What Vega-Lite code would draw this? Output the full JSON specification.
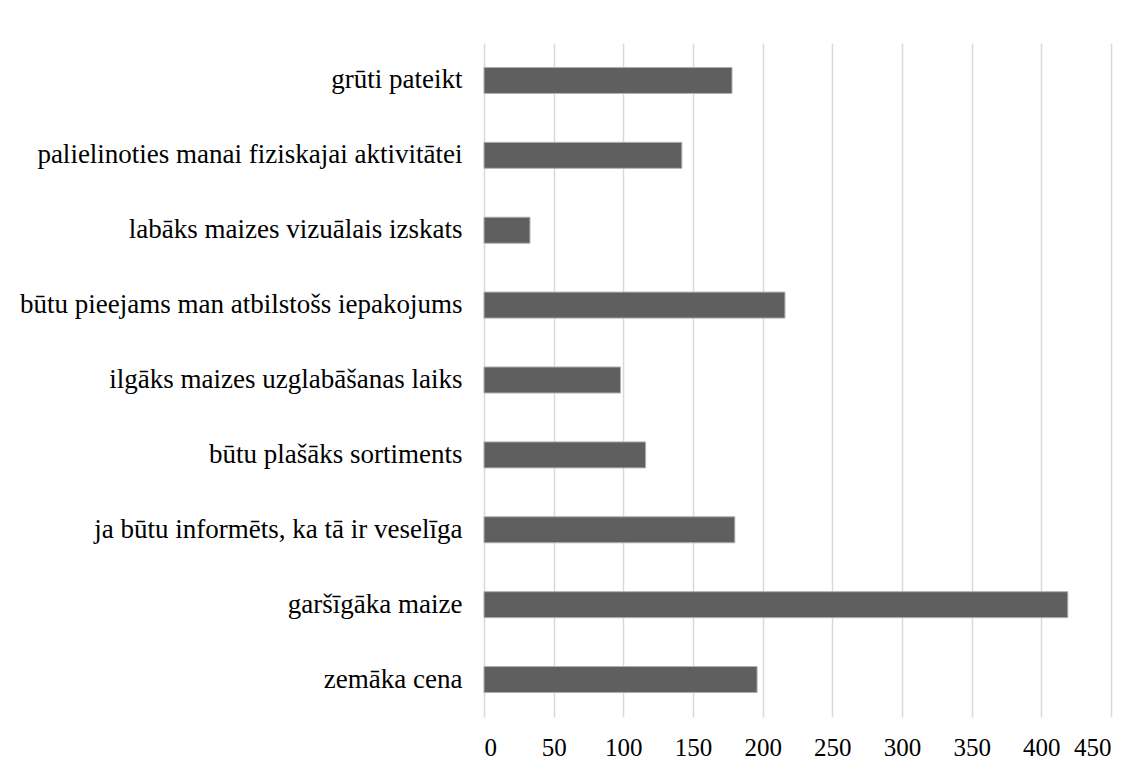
{
  "$schema": "https://vega.github.io/schema/vega-lite/v6.json",
  "width": 627,
  "height": 674,
  "autosize": {"type": "none"},
  "padding": {"left": 484, "top": 43, "right": 37, "bottom": 55},
  "background": "white",
  "config": {
    "view": {"stroke": null},
    "font": "Liberation Serif, Times New Roman, serif"
  },
  "data": {
    "values": [
      {"reason": "grūti pateikt", "count": 178},
      {"reason": "palielinoties manai fiziskajai aktivitātei", "count": 142},
      {"reason": "labāks maizes vizuālais izskats", "count": 33},
      {"reason": "būtu pieejams man atbilstošs iepakojums", "count": 216},
      {"reason": "ilgāks maizes uzglabāšanas laiks", "count": 98},
      {"reason": "būtu plašāks sortiments", "count": 116},
      {"reason": "ja būtu informēts, ka tā ir veselīga", "count": 180},
      {"reason": "garšīgāka maize", "count": 419},
      {"reason": "zemāka cena", "count": 196}
    ]
  },
  "mark": {"type": "bar", "color": "#5f5f5f", "stroke": "#b0b0b0", "strokeWidth": 1},
  "encoding": {
    "y": {
      "field": "reason",
      "type": "nominal",
      "sort": null,
      "title": null,
      "scale": {"paddingInner": 0.653, "paddingOuter": 0.3265},
      "axis": {
        "domain": false,
        "ticks": false,
        "grid": false,
        "labelFont": "Liberation Serif, Times New Roman, serif",
        "labelFontSize": 27,
        "labelColor": "#000000",
        "labelPadding": 22,
        "labelLimit": 600
      }
    },
    "x": {
      "field": "count",
      "type": "quantitative",
      "title": null,
      "scale": {"domain": [0, 450], "nice": false},
      "axis": {
        "values": [0, 50, 100, 150, 200, 250, 300, 350, 400, 450],
        "domain": false,
        "ticks": false,
        "grid": true,
        "gridColor": "#d9d9d9",
        "gridWidth": 1.5,
        "labelFont": "Liberation Serif, Times New Roman, serif",
        "labelFontSize": 25,
        "labelColor": "#000000",
        "labelPadding": 18
      }
    }
  }
}
